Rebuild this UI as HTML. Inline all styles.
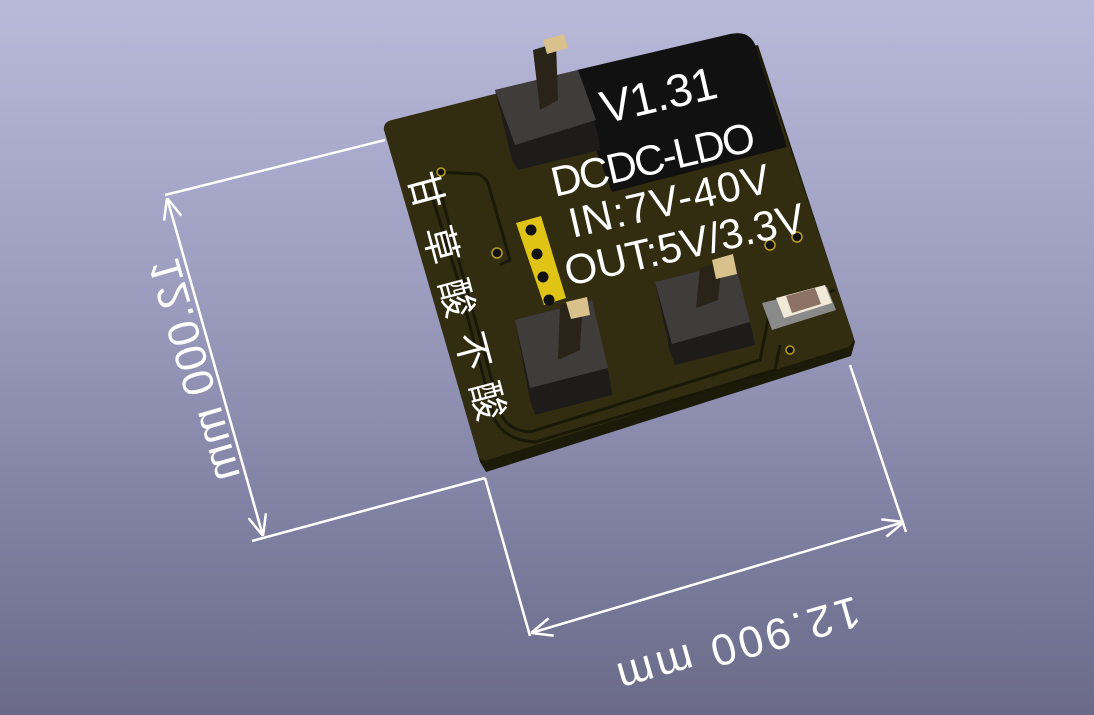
<!DOCTYPE html>
<html><head><meta charset="utf-8"><style>
html,body{margin:0;padding:0;width:1094px;height:715px;overflow:hidden}
body{background:linear-gradient(#b9b9da 0%,#9d9dc0 40%,#7e7ea0 75%,#6a6a88 100%)}
svg{position:absolute;left:0;top:0}
text{font-family:"Liberation Sans","Noto Sans CJK SC",sans-serif;fill:#fff}
</style></head><body>
<svg width="1094" height="715" viewBox="0 0 1094 715">
<defs>
<marker id="a" viewBox="-22 0 22 20" refX="0" refY="10" markerWidth="22" markerHeight="20" orient="auto-start-reverse" markerUnits="userSpaceOnUse">
<path d="M-21,1 L0,10 L-21,19" fill="none" stroke="#fff" stroke-width="2.5"/>
</marker>
</defs>
<!-- dimension lines -->
<g stroke="#fff" stroke-width="2.5" fill="none">
<line x1="165" y1="195" x2="385" y2="140"/>
<line x1="252" y1="541" x2="485" y2="478"/>
<line x1="167" y1="198" x2="263" y2="536" marker-start="url(#a)" marker-end="url(#a)"/>
<line x1="485" y1="478" x2="530" y2="636"/>
<line x1="850" y1="365" x2="906" y2="532"/>
<line x1="531" y1="633" x2="904" y2="522" marker-start="url(#a)" marker-end="url(#a)"/>
</g>
<text transform="translate(177,255) rotate(74) scale(1,-1)" font-size="44" textLength="230">12.000 mm</text>
<text transform="translate(855,596) rotate(164)" font-size="44" textLength="250">12.900 mm</text>

<!-- board thickness -->
<polygon points="384,128 480,462 486,472 851,356 855,342 758,45" fill="#1c1a09"/>
<!-- board top -->
<path d="M392,120 L732,34 Q750,30 756,47 L853,335 Q855,345 845,348 L488,460 Q480,462 478,455 L384,130 Q383,122 392,120 Z" fill="#322d10"/>
<!-- black silkscreen region -->
<path d="M577,70 L730,34 Q750,30 756,47 L787,147 L612,192 L587,127 Z" fill="#111"/>
<!-- traces -->
<g stroke="#1a1808" stroke-width="3" fill="none">
<path d="M435,172 L478,174 Q488,178 490,190 L510,260 L500,265"/>
<path d="M440,190 L460,265 L500,410 Q505,430 530,432 L760,360 L770,310 L835,290"/>
<path d="M430,190 L455,270 L495,420 Q505,440 535,442 L775,370 L780,345"/>
</g>
<!-- vias -->
<g fill="#111" stroke="#b8a020" stroke-width="1.5">
<circle cx="441" cy="172" r="4"/><circle cx="497" cy="253" r="5"/>
<circle cx="770" cy="245" r="5"/><circle cx="797" cy="237" r="5"/><circle cx="790" cy="350" r="4"/>
</g>
<!-- yellow header -->
<polygon points="516,223 541,216 566,298 544,305" fill="#e0c415"/>
<g fill="#111"><circle cx="531" cy="230" r="5.5"/><circle cx="537" cy="254" r="5.5"/><circle cx="543" cy="277" r="5.5"/><circle cx="549" cy="300" r="5.5"/></g>

<!-- connector top -->
<polygon points="495,90 578,70 598,135 600,150 518,170 512,160" fill="#1e1c1b"/>
<polygon points="495,90 578,70 596,120 515,145" fill="#3f3c3c"/>
<polygon points="533,50 556,43 558,100 540,110" fill="#2a2418"/>
<polygon points="543,40 564,34 568,48 547,54" fill="#d9c18c"/>
<!-- connector bottom-left -->
<polygon points="515,320 592,300 610,380 612,395 535,415 530,400" fill="#1e1c1b"/>
<polygon points="515,320 592,300 608,368 530,388" fill="#3f3c3c"/>
<polygon points="560,305 583,298 580,350 558,360" fill="#2a2418"/>
<polygon points="566,302 587,297 590,315 571,319" fill="#d9c18c"/>
<!-- connector bottom-right -->
<polygon points="655,282 735,262 752,330 755,345 675,365 670,352" fill="#1e1c1b"/>
<polygon points="655,282 735,262 750,322 672,344" fill="#3f3c3c"/>
<polygon points="700,268 722,262 718,300 696,308" fill="#2a2418"/>
<polygon points="712,260 733,254 737,274 716,279" fill="#d9c18c"/>
<!-- capacitor -->
<polygon points="762,303 827,287 836,310 772,330" fill="#8a8a8a"/>
<polygon points="776,298 825,285 832,303 784,318" fill="#f2ead8"/>
<polygon points="786,296 815,288 821,304 792,313" fill="#8c7264"/>

<!-- texts -->
<g transform="rotate(-13 660 150)">
<text x="612" y="112" font-size="46" textLength="118">V1.31</text>
<text x="547" y="172" font-size="42" textLength="208">DCDC-LDO</text>
<text x="555" y="216" font-size="42" textLength="205">IN:7V-40V</text>
<text x="540" y="262" font-size="42" textLength="245">OUT:5V/3.3V</text>
</g>
<g font-size="38">
<text transform="translate(408,176) rotate(75)">甘</text>
<text transform="translate(423,230) rotate(75)">草</text>
<text transform="translate(439,283) rotate(75)">酸</text>
<text transform="translate(455,336) rotate(75)">不</text>
<text transform="translate(470,386) rotate(75)">酸</text>
</g>
</svg>
</body></html>
